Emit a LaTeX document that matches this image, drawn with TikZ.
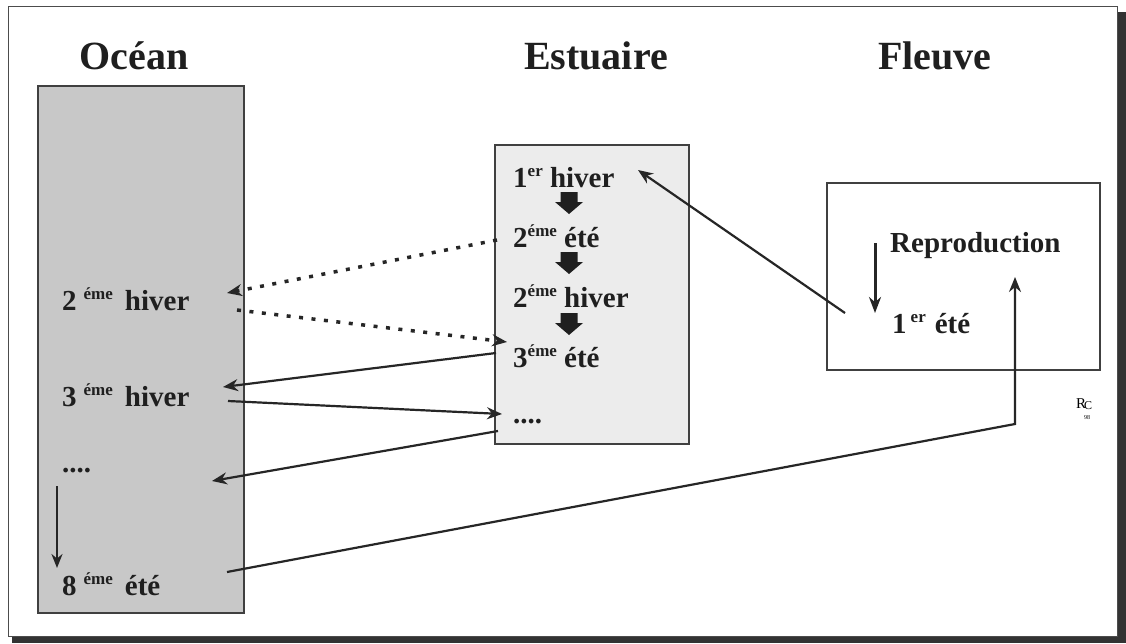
\documentclass[tikz,border=0pt]{standalone}
\usepackage{fontspec}
\setmainfont{Liberation Serif}
\usetikzlibrary{arrows.meta,calc}
\definecolor{oceangray}{HTML}{C8C8C8}
\definecolor{estgray}{HTML}{ECECEC}
\definecolor{framedark}{HTML}{333333}
\newcommand\up[1]{\raisebox{11pt}{\fontsize{17}{17}\selectfont #1}}
\newcommand\blockdown[1]{\fill[black!88,shift={(569,#1)}] (-8.5,0) -- (8.5,0) -- (8.5,10) -- (14,10) -- (0,22) -- (-14,10) -- (-8.5,10) -- cycle;}
\tikzset{
  title/.style={font=\fontsize{40}{44}\selectfont\bfseries, anchor=base, inner sep=0pt, text=black!88},
  lab/.style={font=\fontsize{29}{31}\selectfont\bfseries, anchor=base west, inner sep=0pt, text=black!88},
  boxline/.style={line width=1.8pt, draw=black!75},
  conn/.style={line width=2.2pt, draw=black!85, -{Stealth[length=15pt,width=12pt]}},
  dotline/.style={line width=3.5pt, draw=black!85, dash pattern=on 4pt off 8.5pt, -{Stealth[length=15pt,width=12pt]}},
}
\begin{document}
\begin{tikzpicture}[x=1pt,y=-1pt]
\useasboundingbox (0,0) rectangle (1126,643);
% frame with shadow
\fill[framedark] (12,12) rectangle (1126,643);
\fill[white] (8,6) rectangle (1117,636);
\draw[line width=1pt, black!70] (8,6) rectangle (1117,636);

% titles
\node[title] (tocean) at (134,69) {Océan};
\node[title] (testu) at (596,69) {Estuaire};
\node[title] (tfleuve) at (935,69) {Fleuve};

% boxes
\path[boxline, fill=oceangray] (38,86) rectangle (244,613);
\path[boxline, fill=estgray] (495,145) rectangle (689,444);
\path[boxline, fill=white] (827,183) rectangle (1100,370);

% estuary labels
\node[lab] (e1) at (513,187) {1\up{er} hiver};
\node[lab] (e2) at (513,247) {2\up{éme} été};
\node[lab] (e3) at (513,307) {2\up{éme} hiver};
\node[lab] (e4) at (513,367) {3\up{éme} été};
\node[lab] (e5) at (513,423) {....};
\blockdown{192}
\blockdown{252}
\blockdown{313}

% ocean labels
\node[lab] (o2) at (62,310) {2\hspace{7pt}\up{éme}\hspace{12pt}hiver};
\node[lab] (o3) at (62,406) {3\hspace{7pt}\up{éme}\hspace{12pt}hiver};
\node[lab] (o4) at (62,472) {....};
\node[lab] (o8) at (62,595) {8\hspace{7pt}\up{éme}\hspace{12pt}été};
\coordinate (oa1) at (57,486);
\coordinate (oa2) at (57,568);
\draw[line width=2.4pt, black!85, -{Stealth[length=14pt,width=11pt]}] (oa1) -- (oa2);

% fleuve labels
\node[lab] (rep) at (890,252) {Reproduction};
\node[lab] (f1) at (892,333) {1\hspace{4pt}\up{er}\hspace{9pt}été};
\coordinate (fa1) at (875,243);
\coordinate (fa2) at (875,313);
\draw[line width=3pt, black!85, -{Stealth[length=16pt,width=12pt]}] (fa1) -- (fa2);

% logo
\node[font=\fontsize{15}{15}\selectfont, inner sep=0pt, anchor=base] (logoRC) at (1084,408) {R\kern-2pt\raisebox{-1pt}{\fontsize{12}{12}\selectfont C}};
\node[font=\fontsize{6}{6}\selectfont, inner sep=0pt, anchor=north] (logo98) at (1087,415) {98};

% connector end points
\coordinate (fl1) at (845,313);
\coordinate (e1r) at (638,170);
\coordinate (e2l) at (497,240);
\coordinate (o2a) at (227,293);
\coordinate (o2b) at (237,310);
\coordinate (e4a) at (507,342);
\coordinate (e4b) at (496,353);
\coordinate (o3a) at (223,387);
\coordinate (o3b) at (228,401);
\coordinate (e5a) at (502,414);
\coordinate (e5b) at (498,431);
\coordinate (o4a) at (212,481);
\coordinate (o8a) at (227,572);
\coordinate (bend) at (1015,424);
\coordinate (repb) at (1015,277);

\draw[conn] (fl1) -- (e1r);
\draw[dotline] (e2l) -- (o2a);
\draw[dotline] (o2b) -- (e4a);
\draw[conn] (e4b) -- (o3a);
\draw[conn] (o3b) -- (e5a);
\draw[conn] (e5b) -- (o4a);
\draw[conn] (o8a) -- (bend) -- (repb);
\end{tikzpicture}
\end{document}
